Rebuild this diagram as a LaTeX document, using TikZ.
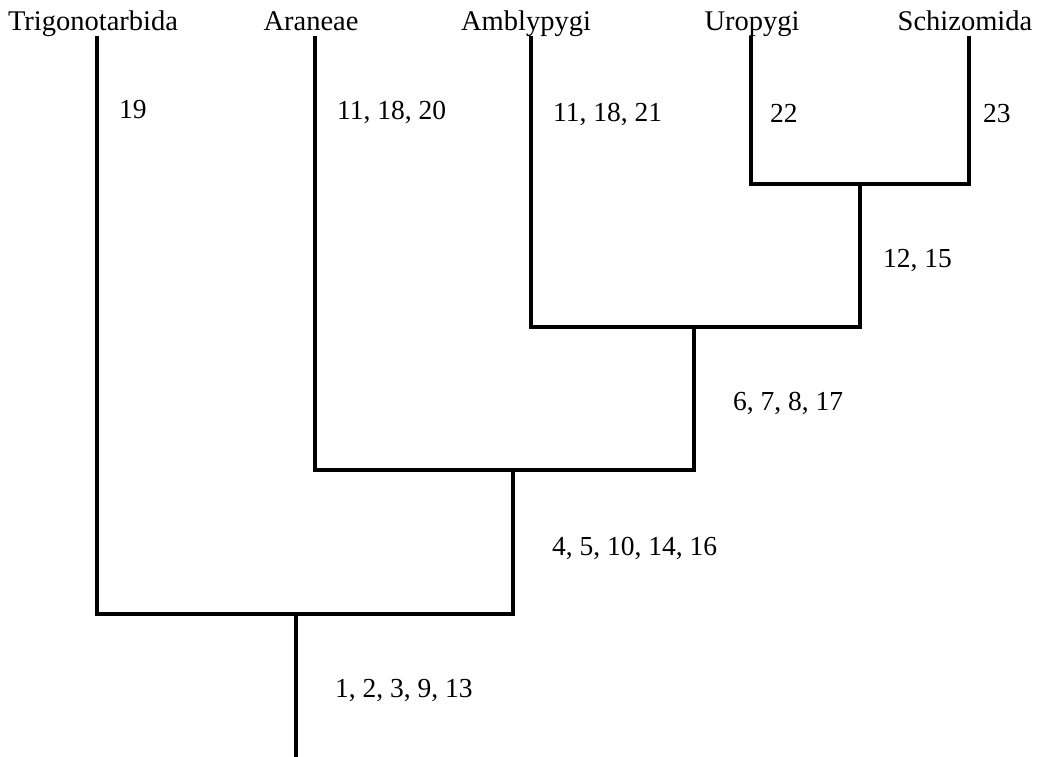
\documentclass[tikz,border=0pt]{standalone}
\usepackage{fontspec}
\setmainfont{Liberation Serif}
\tikzset{
  branch/.style={line width=4.5pt, line join=miter, draw=black},
  taxon/.style={anchor=base, inner sep=0pt, font=\fontsize{28.5}{32}\selectfont},
  trait/.style={anchor=base west, inner sep=0pt, font=\fontsize{27.5}{30}\selectfont}
}
\begin{document}
\begin{tikzpicture}[x=1pt,y=-1pt]
\useasboundingbox (0,0) rectangle (1041,757);
% taxon labels
\node[taxon] (lT) at (93,31) {Trigonotarbida};
\node[taxon] (lA) at (311,31) {Araneae};
\node[taxon] (lAm) at (526,31) {Amblypygi};
\node[taxon] (lU) at (752,31) {Uropygi};
\node[taxon] (lS) at (965,31) {Schizomida};
% tips
\coordinate (tT) at (97,36);
\coordinate (tA) at (315,36);
\coordinate (tAm) at (531,36);
\coordinate (tU) at (751,36);
\coordinate (tS) at (969,36);
% internal nodes
\coordinate (nUS) at (860,184);
\coordinate (nAmUS) at (694,327);
\coordinate (nAAmUS) at (513,470);
\coordinate (n1) at (296,614);
\coordinate (root) at (296,757);
% branches
\draw[branch] (tU) |- (nUS);
\draw[branch] (tS) |- (nUS);
\draw[branch] (tAm) |- (nAmUS);
\draw[branch] (nUS) |- (nAmUS);
\draw[branch] (tA) |- (nAAmUS);
\draw[branch] (nAmUS) |- (nAAmUS);
\draw[branch] (tT) |- (n1);
\draw[branch] (nAAmUS) |- (n1);
\draw[branch] (n1) -- (root);
% character labels
\node[trait] (c19) at (119,119) {19};
\node[trait] (cA) at (337,120) {11, 18, 20};
\node[trait] (cAm) at (553,122) {11, 18, 21};
\node[trait] (cU) at (770,123) {22};
\node[trait] (cS) at (983,123) {23};
\node[trait] (cUS) at (883,267) {12, 15};
\node[trait] (cAmUS) at (733,410) {6, 7, 8, 17};
\node[trait] (cAAmUS) at (552,555) {4, 5, 10, 14, 16};
\node[trait] (cRoot) at (335,697) {1, 2, 3, 9, 13};
\end{tikzpicture}
\end{document}
